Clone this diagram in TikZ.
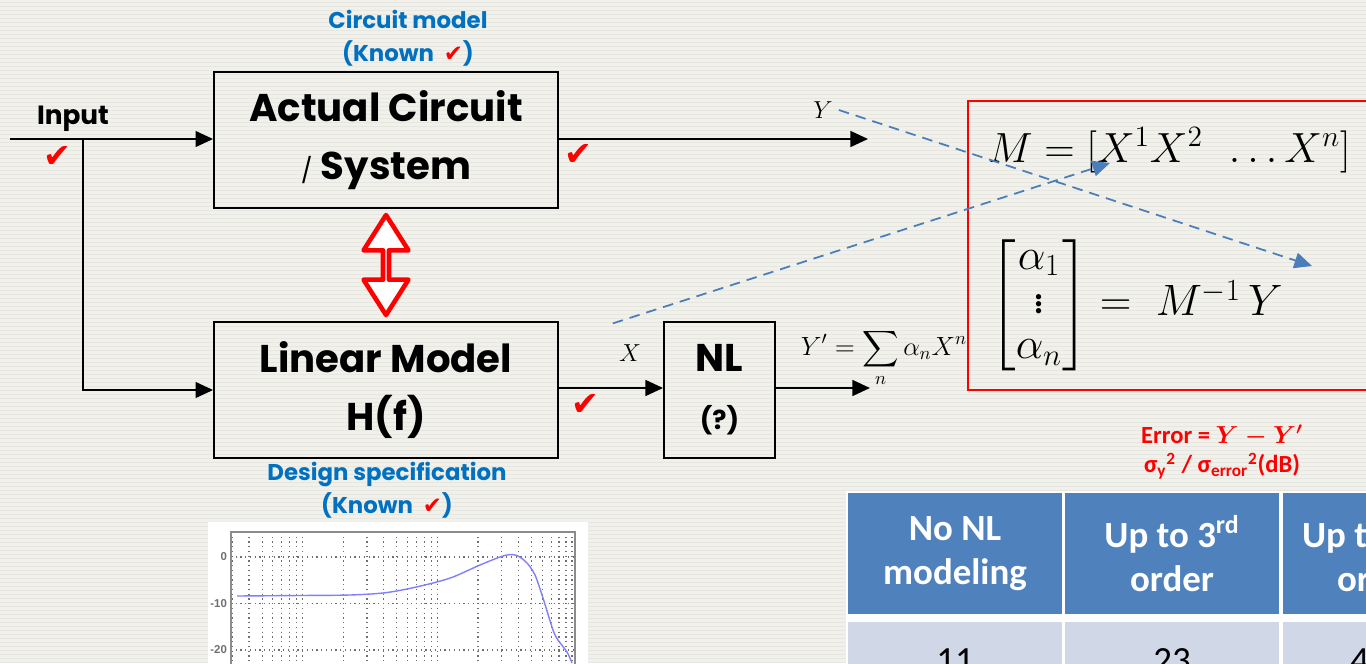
\RequirePackage{fix-cm}
\documentclass[tikz,border=0pt]{standalone}
\usepackage{amsmath}
\usepackage{fontspec}
\setmainfont{Carlito}
\newfontfamily\geofont{Poppins}
\newfontfamily\symfont{DejaVu Sans}
\newfontfamily\plotfont{Liberation Sans}
\usetikzlibrary{arrows.meta, positioning, calc, shapes.arrows}
\definecolor{slidebg}{HTML}{F1F0EB}
\definecolor{checkred}{HTML}{FF0000}
\definecolor{titleblue}{HTML}{0070C0}
\definecolor{hdrblue}{HTML}{4F81BD}
\definecolor{rowblue}{HTML}{D0D8E8}
\definecolor{dashblue}{HTML}{4A7EBB}
\definecolor{plotblue}{HTML}{8080FF}
\definecolor{gridgray}{HTML}{6F6F6F}

\begin{document}
\begin{tikzpicture}[x=0.02cm, y=-0.02cm,
  blk/.style={draw, line width=1.1pt, inner sep=0pt, align=center,
              font=\geofont\bfseries\fontsize{22}{33}\selectfont},
  arr/.style={-{Triangle[length=10pt, width=9pt]}, line width=1.1pt},
  chk/.style={text=checkred, inner sep=0pt, font=\symfont\fontsize{19}{19}\selectfont},
  note/.style={text=titleblue, align=center,
               font=\geofont\bfseries\fontsize{13}{19}\selectfont},
  guide/.style={dashblue, line width=1pt, dash pattern=on 6pt off 4pt,
                -{Triangle[length=10pt, width=9pt]}},
  hdr/.style={fill=hdrblue, text=white, inner sep=0pt, align=center,
              minimum width=4.28cm, minimum height=2.42cm,
              font=\bfseries\fontsize{21}{25}\selectfont},
  cell/.style={fill=rowblue, inner sep=0pt, minimum width=4.28cm,
               minimum height=1.56cm, font=\fontsize{21}{25}\selectfont}
]
  \useasboundingbox (0,0) rectangle (1366,663);
  \clip (0,0) rectangle (1366,663);
  \fill[slidebg] (0,0) rectangle (1366,663);
  \foreach \yy in {2,6,...,663}
    \draw[slidebg!96!black, line width=0.3pt] (0,\yy) -- (1366,\yy);

  % Blocks
  \node[blk, minimum width=6.88cm, minimum height=2.72cm] (actual) at (386,140)
    {Actual Circuit\\{\mdseries\fontsize{14}{14}\selectfont /} System};
  \node[blk, minimum width=6.88cm, minimum height=2.72cm] (linear) at (386,390)
    {Linear Model\\H(f)};
  \node[blk, minimum width=2.22cm, minimum height=2.72cm] (nl) at (719.5,390)
    {NL\\{\fontsize{15}{15}\selectfont (?)}};

  % Signal path
  \coordinate (in) at (10,139);
  \coordinate (split) at (83,139);
  \coordinate (yout) at (868,139);
  \coordinate (ypout) at (870,388);
  \draw[arr] (in) -- (actual.west |- in);
  \draw[arr] (split) |- (linear.west);
  \draw[arr] (actual.east |- yout) -- (yout);
  \draw[arr] (linear.east |- ypout) -- (nl.west |- ypout);
  \draw[arr] (nl.east |- ypout) -- (ypout);

  \node[double arrow, draw=checkred, fill=white, line width=2.6pt, line join=round,
        rotate=90, inner sep=0pt, minimum height=2.0cm, minimum width=0.9cm,
        double arrow head extend=0.3cm, double arrow tip angle=65]
    (equiv) at ($(actual.south)!0.5!(linear.north)$) {};

  % Labels
  \node[font=\geofont\bfseries\fontsize{15}{15}\selectfont] (input) at (73,119) {Input};
  \node[chk] (c1) at (57,157) {✔};
  \node[chk] (c2) at (578,155) {✔};
  \node[chk] (c3) at (585,405) {✔};
  \node[note] (cmodel) at (408,38) {Circuit model\\(Known~~{\symfont\mdseries\color{checkred}✔})};
  \node[note] (dspec) at (387,490) {Design specification\\(Known~~{\symfont\mdseries\color{checkred}✔})};
  \node[font=\fontsize{14}{14}\selectfont] (ylab) at (823,110) {$Y$};
  \node[font=\fontsize{14}{14}\selectfont] (xlab) at (630,353) {$X$};
  \node[font=\fontsize{15}{18}\selectfont] (yform) at (884,358)
    {$\displaystyle Y' = \sum_n \alpha_n X^n$};

  % Least-squares box
  \draw[checkred, line width=1.1pt] (968,101) rectangle (1420,390);
  \node[anchor=base west, inner sep=0pt, font=\fontsize{24}{30}\selectfont] (meq) at (988,162)
    {$M = [X^1X^2\ \ \ldots X^n]$};
  \node[anchor=west, inner sep=0pt, font=\fontsize{25}{30}\selectfont] (aeq) at (990,305)
    {$\renewcommand{\arraystretch}{0.85}\begin{bmatrix}\alpha_1\\ \vdots\\ \alpha_n\end{bmatrix} = \;M^{-1}\,Y$};
  \coordinate (mtop) at (1110,163);
  \coordinate (mbot) at (1312,266);
  \draw[guide] (ylab.east) -- (mbot);
  \draw[guide] ([yshift=0.3cm]xlab.north west) -- (mtop);

  % Error table
  \node[text=checkred, align=center, font=\bfseries\fontsize{14}{17}\selectfont] (err) at (1222,452)
    {Error = $\boldsymbol{Y-Y'}$\\σ\textsubscript{y}\textsuperscript{2} / σ\textsubscript{error}\textsuperscript{2}(dB)};
  \fill[white] (846,491) rectangle (1420,710);
  \node[hdr] (h1) at (955,553.5) {No NL\\modeling};
  \node[hdr] (h2) at (1172,553.5) {Up to 3\textsuperscript{rd}\\order};
  \node[hdr] (h3) at (1389.5,553.5) {};
  \node[text=white, align=center, font=\bfseries\fontsize{21}{25}\selectfont] at (1379,553.5)
    {Up to 11\textsuperscript{th}\\order};
  \node[cell] (v1) at (955,661) {11};
  \node[cell] (v2) at (1172,661) {23};
  \node[cell] (v3) at (1389.5,661) {};
  \node[font=\fontsize{21}{25}\selectfont, anchor=west, inner sep=0pt] at (1350,661) {4};

  % Frequency response
  \fill[white] (208,522) rectangle (588,700);
  \begin{scope}
    \clip (231,532) rectangle (575,700);
    \foreach \d in {-1,0,1,2}
      \foreach \m in {1,...,9} {
        \pgfmathsetmacro\gx{302.7+134.7*(\d+log10(\m))}
        \draw[gridgray, dotted, line width=0.7pt] (\gx,532) -- (\gx,700);
      }
    \foreach \g in {557,603.5,650}
      \draw[gridgray, dotted, line width=0.7pt] (231,\g) -- (575,\g);
    \draw[plotblue, line width=0.8pt] plot[smooth] coordinates {
      (237,596) (300,595.5) (350,595) (383,593) (407,589) (433,583) (453,577)
      (480,565) (500,557) (510,554.5) (518,556) (527,563) (535,575) (543,598)
      (553,630) (558,640) (567,652) (572,663)};
  \end{scope}
  \draw[gridgray!80, line width=0.8pt] (231,700) |- (575,532) -- (575,700);
  \foreach \g/\t in {557/0, 603.5/-10, 650/-20}
    \node[anchor=east, text=gridgray, inner sep=1pt,
          font=\plotfont\bfseries\fontsize{6.5}{6.5}\selectfont] at (229,\g) {\t};
\end{tikzpicture}
\end{document}
